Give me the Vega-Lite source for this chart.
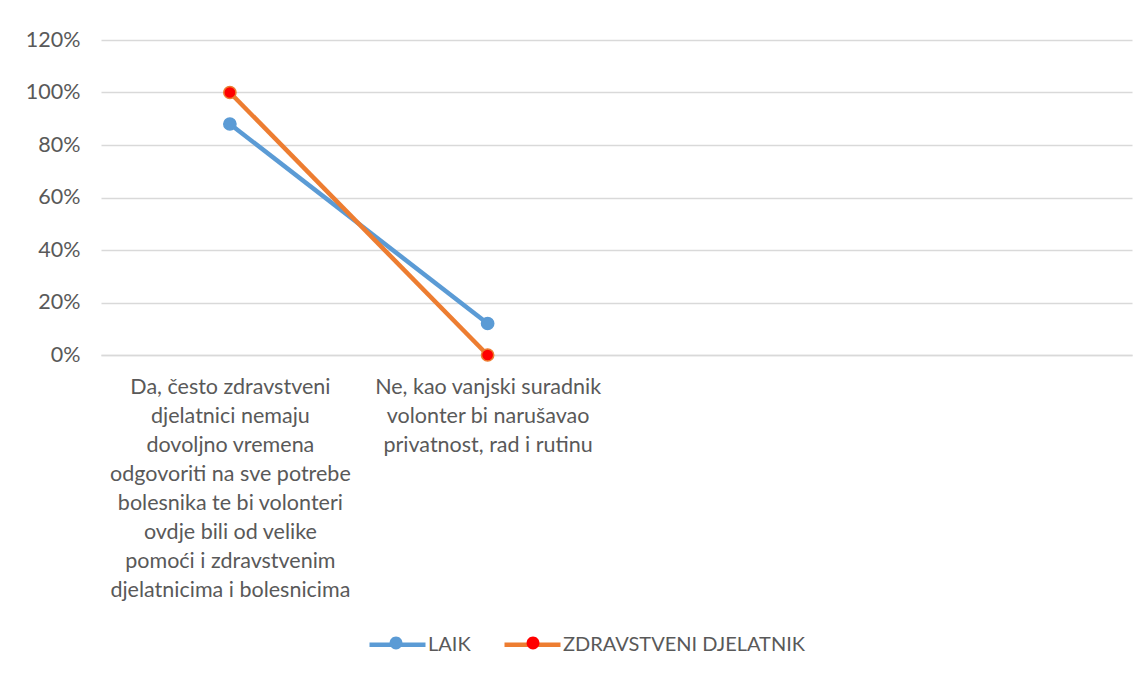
{
  "$schema": "https://vega.github.io/schema/vega-lite/v6.json",
  "width": 1031,
  "height": 315,
  "autosize": "none",
  "padding": {"left": 101, "top": 40, "right": 16, "bottom": 322},
  "background": "white",
  "config": {
    "view": {"stroke": null},
    "font": "Lato",
    "legend": {
      "labelFont": "Lato",
      "labelFontSize": 20,
      "labelColor": "#595959",
      "labelLimit": 500,
      "symbolSize": 3136,
      "labelOffset": 0,
      "columnPadding": 24,
      "direction": "horizontal",
      "orient": "none",
      "legendX": 266,
      "legendY": 574,
      "title": null
    }
  },
  "data": {
    "values": [
      {"category": "Da, često zdravstveni\ndjelatnici nemaju\ndovoljno vremena\nodgovoriti na sve potrebe\nbolesnika te bi volonteri\novdje bili od velike\npomoći i zdravstvenim\ndjelatnicima i bolesnicima", "series": "LAIK", "value": 0.88},
      {"category": "Ne, kao vanjski suradnik\nvolonter bi narušavao\nprivatnost, rad i rutinu", "series": "LAIK", "value": 0.12},
      {"category": "Da, često zdravstveni\ndjelatnici nemaju\ndovoljno vremena\nodgovoriti na sve potrebe\nbolesnika te bi volonteri\novdje bili od velike\npomoći i zdravstvenim\ndjelatnicima i bolesnicima", "series": "ZDRAVSTVENI DJELATNIK", "value": 1.0},
      {"category": "Ne, kao vanjski suradnik\nvolonter bi narušavao\nprivatnost, rad i rutinu", "series": "ZDRAVSTVENI DJELATNIK", "value": 0.0}
    ]
  },
  "encoding": {
    "x": {
      "field": "category",
      "type": "nominal",
      "sort": null,
      "scale": {
        "type": "point",
        "padding": 0.5,
        "domain": [
          "Da, često zdravstveni\ndjelatnici nemaju\ndovoljno vremena\nodgovoriti na sve potrebe\nbolesnika te bi volonteri\novdje bili od velike\npomoći i zdravstvenim\ndjelatnicima i bolesnicima",
          "Ne, kao vanjski suradnik\nvolonter bi narušavao\nprivatnost, rad i rutinu",
          " ",
          "  "
        ]
      },
      "axis": {
        "title": null,
        "labelAngle": 0,
        "labelExpr": "split(datum.value, '\\n')",
        "labelFont": "Lato",
        "labelFontSize": 21.5,
        "labelColor": "#595959",
        "labelLineHeight": 29,
        "labelLimit": 500,
        "labelOverlap": false,
        "labelBaseline": "top",
        "labelAlign": "center",
        "labelPadding": 21,
        "ticks": false,
        "grid": false,
        "domainColor": "#D9D9D9",
        "domainWidth": 1.3
      }
    },
    "y": {
      "field": "value",
      "type": "quantitative",
      "scale": {"domain": [0, 1.2], "nice": false, "zero": true},
      "axis": {
        "title": null,
        "values": [0, 0.2, 0.4, 0.6, 0.8, 1.0, 1.2],
        "format": ".0%",
        "labelFont": "Lato",
        "labelFontSize": 21.5,
        "labelColor": "#595959",
        "labelPadding": 21,
        "domain": false,
        "ticks": false,
        "grid": true,
        "gridColor": "#D9D9D9",
        "gridWidth": 1.3
      }
    }
  },
  "layer": [
    {
      "mark": {"type": "line", "strokeWidth": 4.5},
      "encoding": {
        "color": {
          "field": "series",
          "type": "nominal",
          "scale": {"domain": ["LAIK", "ZDRAVSTVENI DJELATNIK"], "range": ["#5B9BD5", "#ED7D31"]},
          "legend": {"symbolType": "M-1,0H1", "symbolStrokeWidth": 4.5, "zindex": 0}
        }
      }
    },
    {
      "mark": {"type": "point", "filled": false, "size": 150, "strokeWidth": 1.5, "opacity": 1, "fillOpacity": 1, "shape": "circle"},
      "encoding": {
        "color": {
          "field": "series",
          "type": "nominal",
          "legend": {"symbolType": "M-1,0H1", "symbolStrokeWidth": 4.5, "zindex": 0}
        },
        "fill": {
          "field": "series",
          "type": "nominal",
          "scale": {"domain": ["LAIK", "ZDRAVSTVENI DJELATNIK", "-"], "range": ["#5B9BD5", "#FF0000", "#FFFFFF"]},
          "legend": {
            "values": ["LAIK", "ZDRAVSTVENI DJELATNIK"],
            "symbolType": "M0.23,0A0.23,0.23,0,1,1,-0.23,0A0.23,0.23,0,1,1,0.23,0Z",
            "symbolStrokeWidth": 1.5,
            "labelExpr": "''",
            "columnPadding": 79,
            "zindex": 1,
            "encode": {
              "symbols": {
                "update": {
                  "stroke": {"signal": "datum.value === 'LAIK' ? '#5B9BD5' : '#ED7D31'"},
                  "strokeWidth": {"value": 1.5},
                  "opacity": {"value": 1},
                  "fillOpacity": {"value": 1}
                }
              }
            }
          }
        }
      }
    }
  ]
}
